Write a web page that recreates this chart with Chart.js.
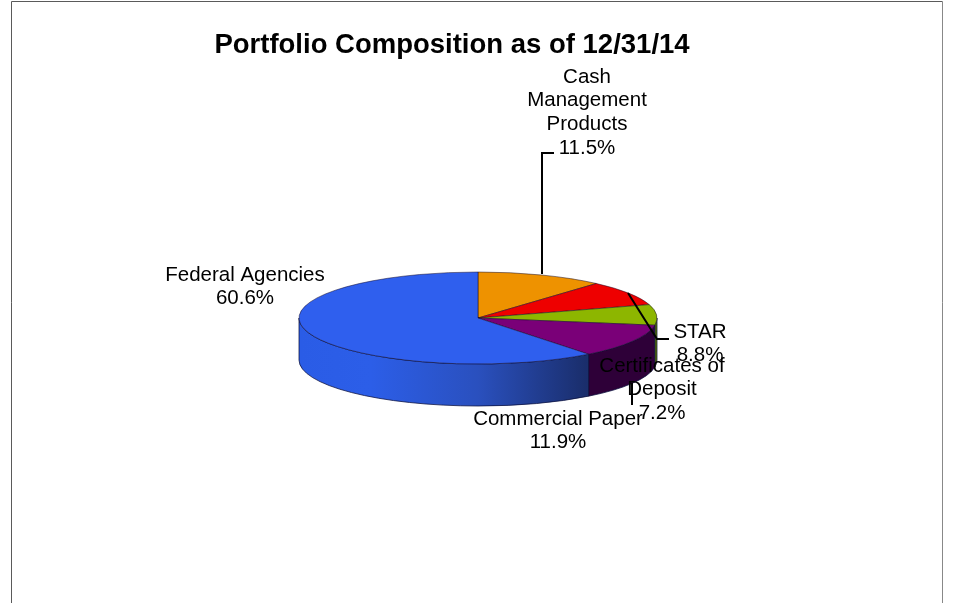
<!DOCTYPE html>
<html>
<head>
<meta charset="utf-8">
<title>Portfolio Composition</title>
<script src="https://cdn.jsdelivr.net/npm/chart.js@4"></script>
<style>
  html, body { margin: 0; padding: 0; background: #fff; overflow: hidden; }
  canvas { display: block; }
</style>
</head>
<body>
<canvas id="portfolioChart" width="963" height="603"></canvas>
<script>
const categories = ['Cash Management Products', 'STAR', 'Certificates of Deposit', 'Commercial Paper', 'Federal Agencies'];
const values = [11.5, 8.8, 7.2, 11.9, 60.6];
const sliceColors = ['#EE9200', '#EE0000', '#8DB600', '#7A0078', '#2F5FEE'];
const sideColors = ['#8a5500', '#8a0000', '#5f7a00', '#2E0038', null];

// fake 3D: the library draws a flat pie, we squash it and add a wall below
const pie = { x: 478, y: 318, rx: 179, ry: 46, depth: 42 };

// label layout, one entry per category
const labelLines = [['Cash', 'Management', 'Products'], ['STAR'], ['Certificates of', 'Deposit'], ['Commercial Paper'], ['Federal Agencies']];
const labelPos = [[587, 77], [700, 332], [662, 366], [558, 419], [245, 275]];
const leaders = [
  [[554, 153], [542, 153], [542, 274]],
  [[669, 339], [657, 339], [628, 293]],
  [[632, 383], [632, 405]]
];

const frame = {
  id: 'frame',
  beforeDraw(chart) {
    const ctx = chart.ctx;
    ctx.save();
    ctx.lineWidth = 1;
    ctx.strokeStyle = '#5a5a5a';
    ctx.beginPath();
    ctx.moveTo(11.5, 603);
    ctx.lineTo(11.5, 1.5);
    ctx.lineTo(942.5, 1.5);
    ctx.stroke();
    ctx.strokeStyle = '#888';
    ctx.beginPath();
    ctx.moveTo(942.5, 1.5);
    ctx.lineTo(942.5, 603);
    ctx.stroke();
    ctx.restore();
  }
};

function wallFill(ctx, i) {
  if (sideColors[i]) return sideColors[i];
  const g = ctx.createLinearGradient(pie.x - pie.rx, 0, pie.x + pie.rx, 0);
  g.addColorStop(0, '#2A5CE6');
  g.addColorStop(0.2, '#2C5EE8');
  g.addColorStop(0.5, '#2A50BE');
  g.addColorStop(0.8, '#1A2E6C');
  g.addColorStop(1, '#15254F');
  return g;
}

const pie3d = {
  id: 'pie3d',
  beforeDatasetDraw(chart, args) {
    const ctx = chart.ctx;
    // wall, only the front half of the ellipse shows
    args.meta.data.forEach((arc, i) => {
      const a = Math.max(arc.startAngle, 0);
      const b = Math.min(arc.endAngle, Math.PI);
      if (b <= a) return;
      ctx.save();
      ctx.beginPath();
      ctx.ellipse(pie.x, pie.y, pie.rx, pie.ry, 0, a, b);
      ctx.ellipse(pie.x, pie.y + pie.depth, pie.rx, pie.ry, 0, b, a, true);
      ctx.closePath();
      ctx.fillStyle = wallFill(ctx, i);
      ctx.fill();
      ctx.strokeStyle = 'rgba(10,15,60,0.75)';
      ctx.lineWidth = 1;
      ctx.stroke();
      ctx.restore();
    });
    const first = args.meta.data[0];
    const k = pie.ry / pie.rx;
    ctx.save();
    ctx.translate(pie.x - first.x, pie.y - first.y * k);
    ctx.scale(1, k);
  },
  afterDatasetDraw(chart) {
    chart.ctx.restore();
  },
  afterDraw(chart) {
    const ctx = chart.ctx;
    ctx.save();
    ctx.strokeStyle = '#000';
    ctx.lineWidth = 2;
    leaders.forEach(pts => {
      ctx.beginPath();
      pts.forEach((p, i) => i ? ctx.lineTo(p[0], p[1]) : ctx.moveTo(p[0], p[1]));
      ctx.stroke();
    });
    ctx.fillStyle = '#000';
    ctx.font = '20.5px "Liberation Sans"';
    ctx.textAlign = 'center';
    ctx.textBaseline = 'middle';
    categories.forEach((c, i) => {
      const lines = labelLines[i].concat(values[i].toFixed(1) + '%');
      lines.forEach((t, j) => ctx.fillText(t, labelPos[i][0], labelPos[i][1] + j * 23.8));
    });
    ctx.restore();
  }
};

new Chart(document.getElementById('portfolioChart'), {
  type: 'pie',
  data: {
    labels: categories,
    datasets: [{
      data: values,
      backgroundColor: sliceColors,
      borderColor: 'rgba(20,10,40,0.8)',
      borderWidth: 1,
      radius: pie.rx,
      clip: false
    }]
  },
  options: {
    responsive: false,
    animation: false,
    layout: { padding: { right: 59 } },
    plugins: {
      legend: { display: false },
      tooltip: { enabled: false },
      title: {
        display: true,
        text: 'Portfolio Composition as of 12/31/14',
        color: '#000',
        font: { family: '"Liberation Sans"', size: 27.5, weight: 'bold' },
        padding: { top: 29, bottom: 0 }
      }
    }
  },
  plugins: [frame, pie3d]
});
</script>
</body>
</html>
